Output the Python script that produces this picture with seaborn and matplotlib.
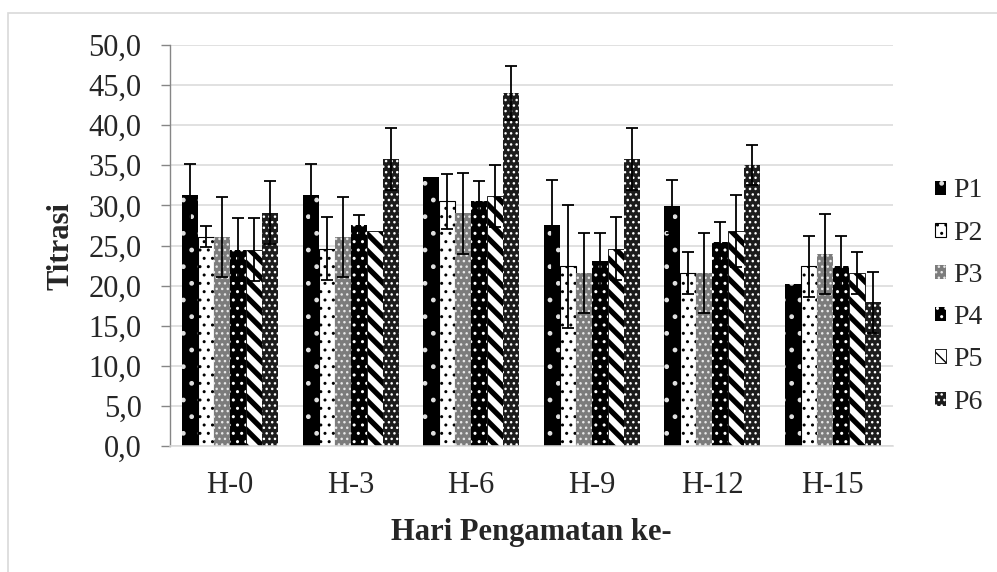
import matplotlib
matplotlib.use("Agg")
import matplotlib.pyplot as plt
import matplotlib.patches as mpatches
from matplotlib.ticker import FuncFormatter, MultipleLocator
import pandas as pd
import seaborn as sns

# Data
hari = ["H-0", "H-3", "H-6", "H-9", "H-12", "H-15"]
perlakuan = ["P1", "P2", "P3", "P4", "P5", "P6"]

p1 = [31.3, 31.3, 33.5, 27.6, 29.9, 20.2]
p2 = [26.1, 24.6, 30.5, 22.4, 21.6, 22.4]
p3 = [26.1, 26.1, 29.0, 21.6, 21.6, 23.9]
p4 = [24.5, 27.6, 30.5, 23.1, 25.4, 22.4]
p5 = [24.5, 26.8, 31.2, 24.6, 26.8, 21.6]
p6 = [29.1, 35.8, 44.0, 35.8, 35.0, 17.9]

err_p1 = [3.9, 3.9, 0.0, 5.6, 3.3, 0.0]
err_p2 = [1.3, 3.9, 3.4, 7.7, 2.6, 3.8]
err_p3 = [5.0, 5.0, 5.0, 5.0, 5.0, 5.0]
err_p4 = [3.9, 1.25, 2.6, 3.4, 2.5, 3.8]
err_p5 = [3.9, 0.0, 3.9, 3.9, 4.5, 2.6]
err_p6 = [3.9, 3.9, 3.4, 3.9, 2.5, 3.8]

nilai = {"P1": p1, "P2": p2, "P3": p3, "P4": p4, "P5": p5, "P6": p6}
galat = {"P1": err_p1, "P2": err_p2, "P3": err_p3,
         "P4": err_p4, "P5": err_p5, "P6": err_p6}

rows = []
for p in perlakuan:
    for h, v in zip(hari, nilai[p]):
        rows.append({"Hari": h, "Perlakuan": p, "Titrasi": v})
df = pd.DataFrame(rows)

sns.set_style("white")
plt.rcParams["font.family"] = ["Liberation Serif", "DejaVu Serif"]
plt.rcParams["hatch.linewidth"] = 1.0

# facecolor, hatch, hatch colour, outline width, hatch line width
gaya = {
    "P1": ("black", ".", "#e0e0e0", 0, 1.0),
    "P2": ("white", "..", "black", 0.8, 1.0),
    "P3": ("#7c7c7c", "...", "#e8e8e8", 0, 1.0),
    "P4": ("black", "..", "white", 0, 1.0),
    "P5": ("white", "\\\\", "black", 0.6, 3.8),
    "P6": ("#1c1c1c", "...", "white", 0, 1.0),
}

fig, ax = plt.subplots(figsize=(9.97, 5.72), dpi=100)
fig.subplots_adjust(left=0.1705, right=0.8957, bottom=0.2203, top=0.9213)

sns.barplot(data=df, x="Hari", y="Titrasi", hue="Perlakuan",
            order=hari, hue_order=perlakuan,
            palette={p: gaya[p][0] for p in perlakuan},
            errorbar=None, width=0.8, legend=False, ax=ax, zorder=2)

for cont, p in zip(ax.containers, perlakuan):
    fc, hatch, hc, lw, hlw = gaya[p]
    for bar in cont:
        bar.set_facecolor(fc)
        bar.set_edgecolor(hc)
        bar.set_hatch(hatch)
        bar.set_linewidth(lw)
        if hasattr(bar, "set_hatch_linewidth"):
            bar.set_hatch_linewidth(hlw)
    xs, ys, es = [], [], []
    for bar, e in zip(cont, galat[p]):
        if e > 0:
            xs.append(bar.get_x() + bar.get_width() / 2)
            ys.append(bar.get_height())
            es.append(e)
    ax.errorbar(xs, ys, yerr=es, fmt="none", ecolor="black",
                elinewidth=1.3, capsize=4.5, capthick=1.3, zorder=3)

ax.set_xlim(-0.5, len(hari) - 0.5)
ax.set_ylim(0, 50)
ax.yaxis.set_major_locator(MultipleLocator(5))
ax.yaxis.set_major_formatter(FuncFormatter(lambda v, _: f"{v:.1f}".replace(".", ",")))
ax.set_axisbelow(True)
ax.yaxis.grid(True, color="#d9d9d9", linewidth=1.1)

ax.tick_params(axis="y", left=True, direction="out", length=6.5, width=1.0,
               color="#868686", pad=14, labelsize=22)
ax.tick_params(axis="x", bottom=False, length=0, pad=18, labelsize=22)

for s in ["top", "right"]:
    ax.spines[s].set_visible(False)
ax.spines["left"].set_color("#868686")
ax.spines["left"].set_linewidth(1.0)
ax.spines["bottom"].set_color("#d9d9d9")
ax.spines["bottom"].set_linewidth(1.1)

ax.set_xlabel("Hari Pengamatan ke-", fontsize=22, fontweight="bold", labelpad=13)
ax.set_ylabel("Titrasi", fontsize=22, fontweight="bold", labelpad=9)

fig.legend(handles=ax.containers, labels=perlakuan, loc="center left",
           bbox_to_anchor=(0.938, 0.4816), frameon=False, fontsize=20,
           handlelength=0.4, handleheight=0.4, handletextpad=0.25,
           labelspacing=0.62, borderpad=0, borderaxespad=0)

fig.add_artist(mpatches.Rectangle((8 / 997, -0.05), 1.0, 1 - 13 / 572 + 0.05,
                                  transform=fig.transFigure, fill=False,
                                  edgecolor="#d9d9d9", linewidth=1.2,
                                  clip_on=False))

fig.savefig("out.png", dpi=100)
